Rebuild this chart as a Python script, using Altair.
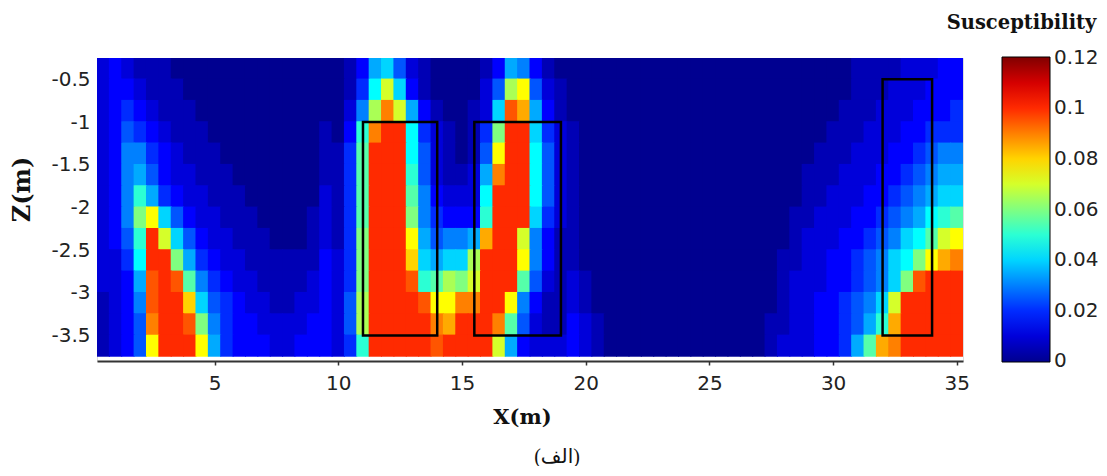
import altair as alt
import pandas as pd

# Cell centres of the susceptibility grid
x_cells = [0.5, 1.0, 1.5, 2.0, 2.5, 3.0, 3.5, 4.0, 4.5, 5.0,
           5.5, 6.0, 6.5, 7.0, 7.5, 8.0, 8.5, 9.0, 9.5, 10.0,
           10.5, 11.0, 11.5, 12.0, 12.5, 13.0, 13.5, 14.0, 14.5, 15.0,
           15.5, 16.0, 16.5, 17.0, 17.5, 18.0, 18.5, 19.0, 19.5, 20.0,
           20.5, 21.0, 21.5, 22.0, 22.5, 23.0, 23.5, 24.0, 24.5, 25.0,
           25.5, 26.0, 26.5, 27.0, 27.5, 28.0, 28.5, 29.0, 29.5, 30.0,
           30.5, 31.0, 31.5, 32.0, 32.5, 33.0, 33.5, 34.0, 34.5, 35.0]
z_cells = [-0.375, -0.625, -0.875, -1.125, -1.375, -1.625, -1.875,
           -2.125, -2.375, -2.625, -2.875, -3.125, -3.375, -3.625]

# Susceptibility, in units of 0.005 (one row per depth)
LEVEL = 0.005
row_01 = [2,3,2,1,1,1,0,0,0,0, 0,0,0,0,0,0,0,0,0,0, 1,3,7,8,5,2,1,0,0,0, 0,1,3,7,6,3,1,0,0,0,
          0,0,0,0,0,0,0,0,0,0, 0,0,0,0,0,0,0,0,0,0, 0,1,1,1,1,2,2,2,3,3]
row_02 = [2,3,3,2,1,1,1,0,0,0, 0,0,0,0,0,0,0,0,0,0, 1,4,9,14,8,3,1,0,0,0, 0,2,5,13,15,5,2,1,0,0,
          0,0,0,0,0,0,0,0,0,0, 0,0,0,0,0,0,0,0,0,0, 0,1,1,1,2,2,2,3,3,3]
row_03 = [2,3,4,3,2,1,1,1,0,0, 0,0,0,0,0,0,0,0,0,0, 2,6,13,18,14,7,3,1,0,0, 1,2,8,19,17,7,3,1,0,0,
          0,0,0,0,0,0,0,0,0,0, 0,0,0,0,0,0,0,0,0,0, 1,1,1,2,2,2,3,3,3,4]
row_04 = [2,3,5,4,3,2,1,1,1,0, 0,0,0,0,0,0,0,0,1,0, 3,10,18,20,20,9,4,2,1,0, 1,4,12,20,20,8,4,2,1,0,
          0,0,0,0,0,0,0,0,0,0, 0,0,0,0,0,0,0,0,0,1, 1,1,2,2,2,3,3,4,4,4]
row_05 = [2,3,6,6,4,3,2,1,1,1, 0,0,0,0,0,0,0,0,1,1, 4,11,20,20,20,9,5,2,1,0, 1,5,15,20,20,9,5,2,1,0,
          0,0,0,0,0,0,0,0,0,0, 0,0,0,0,0,0,0,0,1,1, 1,2,2,2,3,3,4,5,6,6]
row_06 = [2,3,6,7,5,3,2,2,1,1, 1,0,0,0,0,0,0,0,1,1, 4,11,20,20,20,10,5,2,1,1, 2,7,18,20,20,9,5,2,1,0,
          0,0,0,0,0,0,0,0,0,0, 0,0,0,0,0,0,0,1,1,1, 2,2,2,3,3,4,5,6,7,7]
row_07 = [2,3,6,10,7,4,3,2,2,1, 1,1,0,0,0,0,0,0,2,1, 4,11,20,20,20,11,6,3,2,2, 2,9,20,20,20,9,5,2,1,0,
          0,0,0,0,0,0,0,0,0,0, 0,0,0,0,0,0,0,1,1,2, 2,2,3,3,4,5,6,7,8,8]
row_08 = [2,3,6,12,15,8,5,3,2,2, 1,1,1,0,0,0,0,1,2,1, 4,11,20,20,20,12,6,4,3,3, 3,10,20,20,20,8,4,2,1,0,
          0,0,0,0,0,0,0,0,0,0, 0,0,0,0,0,0,1,1,2,2, 2,3,3,4,5,6,7,9,10,11]
row_09 = [2,3,5,10,20,14,8,5,3,2, 2,1,1,1,0,0,0,1,2,1, 4,12,20,20,20,15,7,5,6,6, 7,17,20,20,14,6,3,1,1,0,
          0,0,0,0,0,0,0,0,0,0, 0,0,0,0,0,0,1,2,2,2, 3,3,4,5,6,8,9,11,14,15]
row_10 = [2,2,4,9,20,20,12,7,4,3, 2,2,1,1,1,1,1,1,3,2, 4,12,20,20,20,16,8,7,8,8, 13,20,20,20,15,6,3,1,1,0,
          0,0,0,0,0,0,0,0,0,0, 0,0,0,0,0,1,1,2,2,3, 3,4,5,6,8,9,12,15,17,18]
row_11 = [2,2,3,7,19,20,19,11,6,4, 3,2,2,1,1,1,1,2,3,2, 4,12,20,20,20,19,10,11,13,12, 14,20,20,20,11,5,2,1,2,1,
          0,0,0,0,0,0,0,0,0,0, 0,0,0,0,0,1,2,2,2,3, 3,4,5,6,8,12,19,20,20,20]
row_12 = [1,2,3,6,19,20,20,16,8,5, 4,3,2,2,1,1,2,2,3,2, 5,13,20,20,20,20,19,15,15,18, 18,20,20,15,6,3,1,1,2,1,
          0,0,0,0,0,0,0,0,0,0, 0,0,0,0,0,1,2,2,3,3, 4,5,6,8,14,20,20,20,20,20]
row_13 = [1,2,3,5,18,20,20,19,12,6, 4,3,3,2,2,2,2,3,3,2, 5,13,20,20,20,20,20,18,17,20, 20,20,18,11,5,2,1,1,3,2,
          1,0,0,0,0,0,0,0,0,0, 0,0,0,0,1,1,2,2,3,3, 4,5,7,10,17,20,20,20,20,20]
row_14 = [1,2,3,5,15,20,20,20,15,7, 4,3,3,3,2,2,3,3,3,2, 4,10,20,20,20,20,20,19,20,20, 20,20,14,7,3,2,2,2,3,2,
          1,0,0,0,0,0,0,0,0,0, 0,0,0,0,1,2,2,2,3,3, 4,7,11,17,18,20,20,20,20,20]
rows = [row_01, row_02, row_03, row_04, row_05, row_06, row_07,
        row_08, row_09, row_10, row_11, row_12, row_13, row_14]

# Outlined target boxes
box_x1 = [11.0, 15.5, 32.0]
box_x2 = [14.0, 19.0, 34.0]
box_z1 = [-1.0, -1.0, -0.5]
box_z2 = [-3.5, -3.5, -3.5]

legend_values = [0, 0.02, 0.04, 0.06, 0.08, 0.1, 0.12]
x_ticks = [5, 10, 15, 20, 25, 30, 35]
z_ticks = [-0.5, -1, -1.5, -2, -2.5, -3, -3.5]

# half sizes of a cell (a hair of overlap so that no seams show)
HX, HZ = 0.27, 0.134
records = []
for z, row in zip(z_cells, rows):
    assert len(row) == len(x_cells)
    for x, lv in zip(x_cells, row):
        records.append({"x0": max(x - HX, 0.25), "x1": min(x + HX, 35.25),
                        "z0": min(z + HZ, -0.25), "z1": max(z - HZ, -3.75),
                        "susc": lv * LEVEL})
grid = pd.DataFrame(records)
boxes = pd.DataFrame({"x1": box_x1, "x2": box_x2, "z1": box_z1, "z2": box_z2})

xscale = alt.Scale(domain=[0.25, 35.25], nice=False, zero=False)
yscale = alt.Scale(domain=[-3.8, -0.25], nice=False, zero=False)
# jet colour map over 0 .. 0.12 (ends padded a hair so end labels centre on ticks)
cscale = alt.Scale(domain=[-0.0002, 0.015, 0.045, 0.075, 0.105, 0.1202],
                   range=["#00008f", "#0000ff", "#00ffff", "#ffff00", "#ff0000", "#800000"],
                   interpolate="rgb", nice=False, zero=False)

LABEL_FONT = "DejaVu Sans"
TITLE_FONT = "DejaVu Serif"

yaxis = alt.Axis(
    values=z_ticks, title="Z(m)", grid=False, domain=False, ticks=False,
    tickSize=0, labelPadding=7, labelExpr="toString(datum.value)",
    labelFont=LABEL_FONT, labelFontSize=20, labelColor="#222222",
    titleFont=TITLE_FONT, titleFontWeight="bold", titleFontSize=24,
    titleColor="#111111", titleAngle=270, titleX=-75, titleY=131,
    titleAlign="center", titleBaseline="middle")

heat = alt.Chart(grid).mark_rect().encode(
    x=alt.X("x0:Q", scale=xscale, axis=alt.Axis(
        values=x_ticks, title="X(m)", grid=False,
        labelFont=LABEL_FONT, labelFontSize=20, labelColor="#222222",
        labelPadding=8, tickSize=4, tickColor="#333333", tickWidth=1.5,
        domainColor="#333333", domainWidth=2,
        titleFont=TITLE_FONT, titleFontWeight="bold", titleFontSize=21,
        titleColor="#111111", titleX=425, titleY=56,
        titleAlign="center", titleBaseline="middle")),
    x2="x1:Q",
    y=alt.Y("z0:Q", scale=yscale, axis=yaxis),
    y2="z1:Q",
    color=alt.Color("susc:Q", scale=cscale, legend=alt.Legend(
        type="gradient", title=None, orient="none", legendX=905, legendY=-1,
        direction="vertical",
        gradientLength=305, gradientThickness=48,
        gradientStrokeColor="black", gradientStrokeWidth=1,
        values=legend_values, labelExpr="toString(datum.value)",
        labelFont=LABEL_FONT, labelFontSize=20, labelColor="#222222",
        labelOffset=4, labelOverlap=False, padding=0)),
)

frames = alt.Chart(boxes).mark_rect(fillOpacity=0, stroke="black", strokeWidth=2.5).encode(
    x=alt.X("x1:Q", scale=xscale, axis=alt.Axis(
        orient="top", title="Susceptibility", labels=False, ticks=False,
        domain=False, grid=False,
        titleFont=TITLE_FONT, titleFontWeight="bold", titleFontSize=19.5,
        titleColor="#111111", titleX=924, titleY=-36,
        titleAlign="center", titleBaseline="middle")),
    x2="x2:Q",
    y=alt.Y("z1:Q", scale=yscale, axis=yaxis),
    y2="z2:Q",
)

chart = alt.layer(heat, frames).resolve_axis(x="independent").properties(
    width=866, height=303,
    padding={"left": 89, "top": 50, "right": 136, "bottom": 105},
    autosize=alt.AutoSizeParams(type="none"),
    title=alt.TitleParams(text="(الف)", orient="bottom", anchor="middle",
                          dx=27, offset=20, font="Liberation Serif, DejaVu Sans, serif",
                          fontSize=20, fontWeight="normal", color="#111111"),
).configure_view(strokeWidth=0).configure(background="white")

chart.save("out.html", embed_options={"renderer": "svg", "actions": False})
